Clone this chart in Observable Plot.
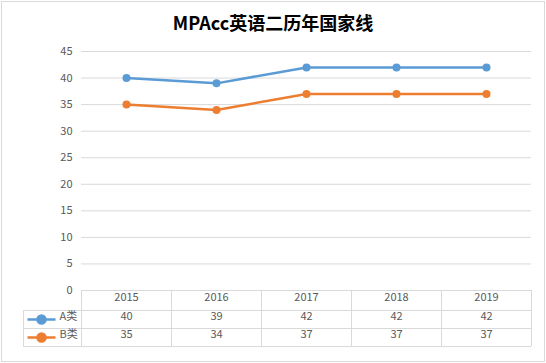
<!DOCTYPE html>
<html><head><meta charset="utf-8">
<script src="https://cdn.jsdelivr.net/npm/d3@7"></script>
<script src="https://cdn.jsdelivr.net/npm/@observablehq/plot@0.6"></script>
<style>
html,body{margin:0;padding:0;background:#fff;}
#wrap{position:relative;width:546px;height:363px;overflow:hidden;background:#fff;}
#border{position:absolute;left:1px;top:1px;width:544px;height:361px;border:1px solid #d9d9d9;box-sizing:border-box;}
#title{position:absolute;left:0;top:0;width:546px;height:44px;line-height:44px;text-align:center;font-family:"Noto Sans CJK SC","Noto Sans",sans-serif;font-weight:bold;font-size:18px;color:#000;}
#chart{position:absolute;left:0;top:0;}
</style>
</head><body>
<div id="wrap"><div id="border"></div><div id="chart"></div><div id="title"></div></div>
<script>
const titleText = "MPAcc英语二历年国家线";
const years = ["2015","2016","2017","2018","2019"];
const seriesNames = ["A类","B类"];
const seriesA = [40,39,42,42,42];
const seriesB = [35,34,37,37,37];
const yTicks = [0,5,10,15,20,25,30,35,40,45];
const colors = ["#5B9BD5","#ED7D31"];

document.getElementById("title").textContent = titleText;

const data = years.flatMap((yr,i)=>[
  {year:yr, series:seriesNames[0], value:seriesA[i]},
  {year:yr, series:seriesNames[1], value:seriesB[i]}
]);

const W=546, H=363, mT=51, mB=73, mL=81, mR=15;
const frameH = H - mT - mB;      // 239
const step = (W - mL - mR) / years.length; // 90
const rowH = [20, 18, 18];
const rowTop1 = rowH[0], rowTop2 = rowH[0]+rowH[1], tableH = rowH[0]+rowH[1]+rowH[2];
const legendW = 58;
const grid = "#d9d9d9", txt = "#595959";
const font = "'Noto Sans CJK SC','Noto Sans',sans-serif";

const swatch = {
  draw(ctx){
    ctx.moveTo(-14,0); ctx.lineTo(14,0);
    ctx.moveTo(4,0); ctx.arc(0,0,4,0,2*Math.PI);
  }
};

const rowDy = [rowTop1/2, rowTop1 + rowH[1]/2, rowTop2 + rowH[2]/2];

const chart = Plot.plot({
  width: W, height: H,
  marginTop: mT, marginBottom: mB, marginLeft: mL, marginRight: mR,
  style: {fontFamily: font, fontSize: "11px", color: txt, background: "transparent"},
  x: {type: "point", domain: years, padding: 0.5, axis: null},
  y: {domain: [0, 45], ticks: yTicks, tickSize: 0, tickPadding: 9, label: null, tickFormat: d=>String(d)},
  color: {domain: seriesNames, range: colors},
  marks: [
    Plot.ruleY(yTicks, {stroke: grid, strokeWidth: 1}),
    // table horizontal lines
    ...[rowTop1, rowTop2, tableH].map(dy => Plot.ruleY([0], {dy, insetLeft: -legendW, stroke: grid})),
    // table vertical lines
    Plot.ruleX(years, {x: d=>d, dx: -step/2, insetTop: frameH, insetBottom: -tableH, stroke: grid}),
    Plot.ruleX([years[years.length-1]], {x: d=>d, dx: step/2, insetTop: frameH, insetBottom: -tableH, stroke: grid}),
    Plot.ruleX([years[0]], {x: d=>d, dx: -step/2 - legendW, insetTop: frameH + rowTop1, insetBottom: -tableH, stroke: grid}),
    // header
    Plot.text(years, {x: d=>d, frameAnchor: "bottom", dy: rowDy[0], fill: txt, fontSize: 11}),
    Plot.text(data.filter(d=>d.series===seriesNames[0]), {x: "year", text: d=>String(d.value), frameAnchor: "bottom", dy: rowDy[1], fill: txt, fontSize: 11}),
    Plot.text(data.filter(d=>d.series===seriesNames[1]), {x: "year", text: d=>String(d.value), frameAnchor: "bottom", dy: rowDy[2], fill: txt, fontSize: 11}),
    // legend in table
    ...seriesNames.map((s,k) => Plot.dot([s], {frameAnchor: "bottom-left", dx: -40, dy: rowDy[k+1], symbol: swatch, r: 4, stroke: colors[k], fill: colors[k], strokeWidth: 2.5})),
    ...seriesNames.map((s,k) => Plot.text([s], {frameAnchor: "bottom-left", dx: -22, dy: rowDy[k+1], textAnchor: "start", fill: txt, fontSize: 11})),
    // series
    Plot.line(data, {x: "year", y: "value", z: "series", stroke: "series", strokeWidth: 2.5}),
    Plot.dot(data, {x: "year", y: "value", fill: "series", r: 4})
  ]
});
document.getElementById("chart").appendChild(chart);
</script>
</body></html>
